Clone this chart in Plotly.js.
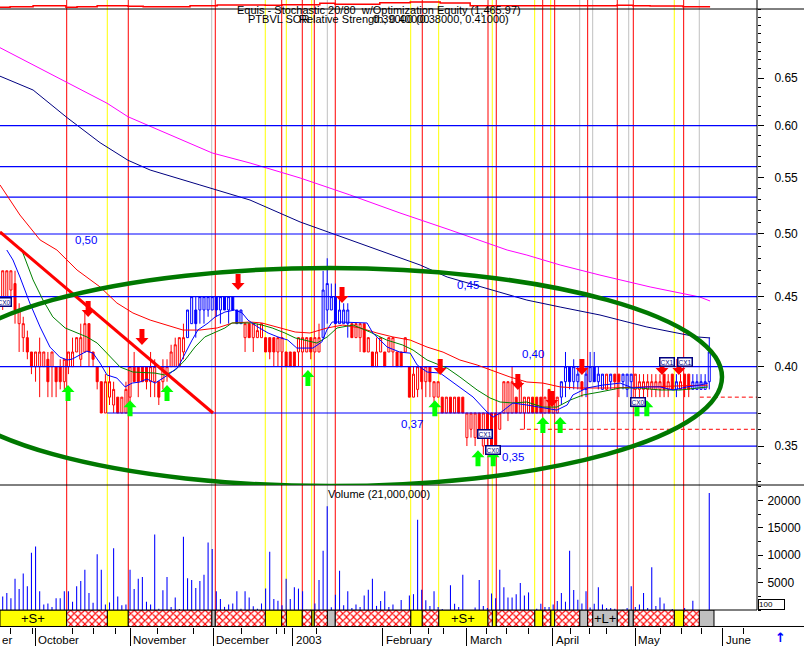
<!DOCTYPE html>
<html>
<head>
<meta charset="utf-8">
<script src="https://cdn.plot.ly/plotly-3.0.1.min.js"></script>
<style>
html,body{margin:0;padding:0;background:#fff;overflow:hidden}
#chart{width:804px;height:646px}
</style>
</head>
<body>
<div id="chart"></div>
<script>
// ---------------- DATA (prices in cents, bar index = trading day) ----------------
const openC = [45,45,45.5,46,43,42,42,41,40,40, 40,40.5,40,40,40,39,40,40,41,40.5,
 41,43,41,40,39,37,38,37.5,38,37, 37,38,40,40,40,40,39,39,39,39,
 39.5,40,40,40,41,42,43,44,44,44, 44,44,45,44,45,44,45,44,43,42,
 43,42,42,42,42,42,42,41,41,41, 41,41,41,41,41,42,41,41,42,44,
 44,45,43,43,43,43,42,42,43,41, 41,40,41,41,41,41,41,41,41,40,
 38,38.5,40,39,40,38,38,38,37,38, 37,38,38,35.5,36,35.5,37,35,37,37,
 37,36,37,37,37,38,37,37,37,38, 38,38,37,38.5,37,37,38,39,40,39,
 39,39,38.5,39,40,39,38.5,38.5,39,39.5, 39.5,39,38.5,39,38.5,38.5,38.5,38.5,38.5,38.5,
 38.5,39.5,38.5,39.5,38.5,38.5,39.5,39.5,38.5,38.5, 38.5,38.5,39];
const highC = [47,47,47,47,44.5,43.5,42.5,41,41,42, 41,41,41,40,40.5,40.5,41,42,42,43,
 44,43,41,40,39,39.5,40,39,38,38, 39,40,41,40,40,40,41,40.5,39,40.5,
 40.5,41.5,42,42,43,44,45,45,45,45, 45,45,45,45,45,45,45,44,44,43,
 43,43,43,43,42,42,42,42,42,41, 41,41,42,42,42,42,42,43,47,48,
 46,46,45,44.5,44.5,43,43,43,43,42, 41,42,42,41,42,42,41,41,42,40,
 40,40,40,40,40,39,39,38,38,38, 38,38,38,37,37,37,37,37,37,37,
 37,37,39,39,40,38,39,38,38,38, 38,38,38,38.5,38,38,39,41,40,40.5,
 40,39,40,41,41,40,39.5,39.5,39.5,39.5, 39.5,39.5,39.5,39.5,39.5,39.5,39.5,39.5,39.5,39.5,
 39.5,39.5,39.5,39.5,39.5,39.5,39.5,39.5,39.5,39.5, 39.5,39.5,42];
const lowC = [44,45,45,43,41,41,40.5,39.5,39,38, 40,38,38,38,38.5,38.5,39.5,40,41,40,
 41,40,40,38.5,37,37,37.5,37,37,37, 37,37,39,38,39,38.5,38,38,37.5,38.5,
 39,40,40,40,40.5,42,43,42,43,43, 43.5,44,43.5,43,44,43,44,43,43,41,
 42,41,42,42,41,40.5,40,40,40,40, 40,40,40,41,41,40.5,41,41,42,43,
 44,43,43,43,42,42,42,41,41,41, 40,40,41,40,41,40,40,40,41,38,
 38,38,38.5,38,38,37,38,37,37,37, 37,37,37,35,35.5,35,35.5,34.5,34.5,34.5,
 35,36,37,36.5,37,37,37,36,37,37, 37,37,37,37,37,37,37.5,38,38.5,38.5,
 38.5,38,38,39,39,38.5,38.5,38.5,38.5,38.5, 38,38.5,38,37.5,37.5,38,38,38,38,38,
 38,38,38,38.5,38,38.5,38,38,38.5,38.5, 38.5,38.5,38.5];
const closeC = [47,47,47,44,44,43,41,40,41,41, 41,39,41,39,39,40.5,41,41,42,42,
 43,41,40.5,39,37,39,39,38.5,37,38, 38.5,40,39,39,39,39,40,40,38,40,
 40,41,41.5,42,42,44,45,43,45,45, 45,45,44,45,44,45,44,43,44,43,
 42,43,42.5,43,41,41,41,42,42,40, 40,40,42,42,42,41,42,42,45.5,46,
 45,43,44,44,44,42,43,43,41,42, 40,41,42,40,42,42,40,40,42,38,
 39.5,40,39,40,39,39,39,37,38,37, 38,37,37,37,37,37,36,37,35.5,35,
 35,37,39,39,39,37,39,38,38,37, 37,37,38,37,38,38,39,40,39,40,
 39.5,38.5,39.5,40,39,39.5,39.5,39.5,39.5,39, 39,39.5,39.5,39.5,39.5,39,39,39,39,39,
 39,38.5,39,38.5,39,39,38.5,38.5,39,39, 39,39,41];
// trade state per bar: r = short (red candles), b = long (blue candles)
const state = ('r'.repeat(45) + 'b'.repeat(14) + 'r'.repeat(19) + 'b'.repeat(7) + 'r'.repeat(51) +
  'bbbbb' + 'r' + 'bbbbb' + 'r' + 'b' + 'rr' + 'bbb' + 'r'.repeat(10) + 'b' + 'rrr' + 'bbbbb').split('');
const volume = [2450,3080,2140,5720,3840,6670,4340,10440,11570,3400,
 1000,1190,570,2140,2140,3400,3400,1510,4340,5280, 7360,3080,1320,10190,7360,1000,1380,11260,2450,880,
 1000,7360,3840,5720,6040,1510,1000,13770,250,3590, 6040,570,2260,190,13340,5790,5470,4020,5280,6420,
 12320,11130,3400,2020,570,1000,1190,3400,250,3400, 2260,700,250,1190,3900,10630,2020,1700,880,5720,
 2020,4150,3900,3400,60,60,1190,5470,10810,18920, 500,2770,7170,880,3400,380,1000,570,2640,3710,
 5720,750,1640,3400,570,1000,0,1830,50,2640, 2890,16470,3710,1760,750,3400,570,190,0,4530,
 1130,570,6420,0,0,440,5470,750,380,3020, 2140,7360,4150,2260,2260,2890,4910,2640,3210,0,
 250,1130,570,570,1000,1640,3080,1510,10810,3650, 1890,1190,3400,440,1130,4150,1000,380,380,250,
 0,60,380,4340,570,1000,3080,380,7790,750, 2260,1190,0,190,0,0,380,0,1700,0,
 0,0,21320];

// moving averages (bar index, price)
const maBlueX = [1.0,2.5,4.2,6.6,9.1,11.5,13.9,15.7,16.9,18.8,20.5,22,23.7,25.4,27.8,29.8,31.5,33.4,35.1,37.1,38.3,40.2,42.7,44.4,46.1,47.5,50,51.7,54.1,56.5,58.3,59.7,62.1,64.6,67,69.4,71.6,75.5,77.7,78.9,80.2,82.1,86.2,88.7,90.1,93.6,96.7,99.2,100.9,103.3,106.5,108.9,111.3,114.5,117.9,119.4,121.1,122.8,124.2,127.6,131.5,134.9,137.4,138.8,142.2,146.1,150.3,153.4,156.8,160,163.2,166.6,169.7,171.7];
const maBlueY = [0.4867,0.4786,0.4651,0.4452,0.4276,0.4134,0.4065,0.4045,0.4051,0.4078,0.4106,0.4092,0.4024,0.3944,0.3924,0.3866,0.3891,0.3898,0.3918,0.3891,0.3911,0.3944,0.3997,0.4092,0.4183,0.4254,0.4305,0.4349,0.4385,0.44,0.4378,0.4326,0.4276,0.4233,0.4205,0.4183,0.4127,0.4127,0.417,0.4254,0.4312,0.4312,0.4305,0.4305,0.4233,0.4134,0.4099,0.4092,0.4011,0.3964,0.3957,0.3911,0.3866,0.3801,0.3706,0.3675,0.37,0.3737,0.3763,0.375,0.3731,0.3718,0.375,0.3814,0.3859,0.3878,0.3891,0.3859,0.3866,0.3866,0.3846,0.3866,0.3878,0.3891];
const maGreenX = [4.5,7.4,9.8,12.2,15.2,18.1,20.5,23,25.4,28.6,31.7,35.1,37.1,39.5,42,44.4,46.8,49.2,51.7,54.1,55.8,57.3,60.7,63.1,65.6,68.7,71.2,76.5,79,81.4,85.3,89.4,93.5,97.4,99.9,103.3,108.2,111.3,115.5,118.6,121.1,124.2,127.6,131.5,134.9,138.1,141.3,145.4,150.3,155.1,160,164.9,171.7];
const maGreenY = [0.488,0.4628,0.4474,0.4349,0.4269,0.4233,0.4205,0.4162,0.4092,0.3997,0.3964,0.3957,0.3957,0.3944,0.3977,0.4045,0.4134,0.4205,0.424,0.4269,0.4305,0.4305,0.4305,0.429,0.4269,0.4233,0.4198,0.4162,0.4205,0.4269,0.429,0.424,0.4183,0.4148,0.4113,0.4045,0.399,0.3931,0.3846,0.3795,0.3769,0.3763,0.3769,0.3737,0.3737,0.3781,0.3814,0.3833,0.3859,0.3859,0.3846,0.3846,0.3866];
const maRedX = [-0.66,4.2,9.1,13.2,18.1,23.7,27.8,31.7,35.9,40,43.9,48,52.2,56,60.2,63.1,67,71.2,74.8,79,82.8,87,91.1,95,99.2,103.3,107.2,111.3,115.5,119.4,123.5,127.6,131.5,135.7,139.8,147.8,155.9,164.1,171.7];
const maRedY = [0.543,0.5162,0.495,0.4867,0.4706,0.4574,0.4452,0.4378,0.4326,0.429,0.4254,0.4254,0.4269,0.4305,0.4312,0.4305,0.4276,0.424,0.4233,0.4269,0.429,0.4269,0.4233,0.4205,0.4183,0.4134,0.4099,0.4045,0.4011,0.397,0.3931,0.3898,0.3891,0.3866,0.3859,0.3859,0.3866,0.3872,0.3878];
const maNavyX = [-0.66,7.4,15.7,23.7,30.5,35.9,48,60.2,72.4,84.5,91.1,101.6,108.2,119.4,127.6,135.7,145.4,156.8,169,172.2];
const maNavyY = [0.652,0.637,0.608,0.583,0.566,0.5568,0.543,0.5294,0.5102,0.495,0.4867,0.4746,0.4651,0.455,0.4474,0.4422,0.4363,0.4276,0.4205,0.4198];
const maMagX = [-0.66,15.7,25.4,30.5,51,60.2,72.4,84.5,96.7,108.9,122.8,127.6,135.7,145.4,157.6,169.7,172.2];
const maMagY = [0.684,0.6446,0.623,0.609,0.573,0.5634,0.5494,0.534,0.518,0.5034,0.4867,0.4826,0.4746,0.4666,0.4574,0.4497,0.4467];

// optimization equity (step line in the top strip)
const eqX = [-0.66,1.8,7.4,15.4,18.1,23,30.5,34.2,45.6,52.2,63.9,68,77.2,80.9,91.8,99.2,106.5,113.8,149.5,153.4,157.6,165.6,172.2];
const eqY = [951,1005,1093,951,1005,1093,1040,1005,1093,1155,1129,1182,1307,1218,1360,1422,1333,1093,1129,1093,1067,1005,1005];

// system signals: R = red line, Y = yellow line, G = grey line
const sigPos = [15.58,25.46,30.57,50.88,51.75,63.92,67.92,69.04,72.93,75.22,75.85,79.02,80.96,99.32,102.14,106.13,118.14,119.18,120.15,129.5,131.45,133.4,134.37,140.46,142.4,143.62,149.61,152.39,153.51,163.48,165.77,169.57];
const sigType = ['R','Y','R','G','R','Y','R','Y','R','Y','R','G','R','Y','R','Y','R','Y','R','Y','R','Y','R','G','R','G','R','G','R','Y','R','G'];
const bandStartType = 'Y';
const bandLabelSeg = [0, 16, 26];
const bandLabelText = ['+S+', '+S+', '+L+'];

// buy / sell arrows and exit labels
const sellX = [20.8,33.9,57.3,82.6,106.5,125.4,133.7,141,160.5,164.6];
const sellY = [0.4349,0.4148,0.455,0.4452,0.3944,0.3846,0.3737,0.3944,0.3944,0.3944];
const buyX = [15.9,31,40,74.3,105.2,115.7,119.4,131.5,135.7,154.4,156.8];
const buyY = [0.3878,0.3781,0.3878,0.3977,0.3781,0.3476,0.3476,0.3675,0.3675,0.3781,0.3781];
const cxX = [0.3,117.4,119.4,154.7,161.7,166.1];
const cxY = [0.446,0.357,0.3476,0.3769,0.4031,0.4031];
const cxText = ['CX0','CX1','CX0','CX0','CX1','CX1'];

// horizontal levels, trendline, ellipse
const hFullY = [0.60,0.56,0.532,0.50,0.45,0.40];
const hPartY = [0.37,0.35], hPartFrom = [25.4,118.6];
const hDashY = [0.38,0.36], hDashFrom = [169.7,125.9];
const lvlTextX = [20.3,113.3,129.1,99.6,124.2];
const lvlTextY = [0.495,0.4589,0.4086,0.3632,0.3436];
const lvlText = ['0,50','0,45','0,40','0,37','0,35'];
const trendX = [-0.66, 51.2], trendY = [0.5017, 0.370];
const ellX = [-15.75, 175.1], ellY = [0.3272, 0.4722];

// axis ticks
const priceTicks = [0.35,0.40,0.45,0.50,0.55,0.60,0.65];
const volTicks = [5000,10000,15000,20000];
const monthX = [7.94,30.99,51.27,70.59,92.5,112.95,133.89,154,175.27];
const monthText = ['October','November','December','2003','February','March','April','May','June'];
const weekX = [1.95,7.21,16.94,22.05,27.34,37.8,46.4,58.18,66.7,68.55,76.44,99.15,103.6,107.25,117.65,122.69,127.94,138.1,142.96,147.03,160.01,165.29,170.16,180.28];

// ---------------- LAYOUT HELPERS ----------------
const FONT = 'Liberation Sans, Arial, sans-serif';
const PLOT_B = 627;                       // bottom of plotting area in px
const py = p => (PLOT_B - p) / PLOT_B;    // pixel row -> paper fraction
const dom = { eq: [py(9), 1], price: [py(485), py(9)], vol: [py(610), py(485)], band: [0, py(610)] };
const xMin = -0.657, xMax = 183.62;
const N = closeC.length;
const bars = Array.from({length: N}, (_, i) => i);
const lg = Math.log10;

const traces = [];
const hide = {hoverinfo: 'skip', showlegend: false};

// candles
[['r', '#ff0000'], ['b', '#0000ff']].forEach(([s, col]) => {
  const ids = bars.filter(i => state[i] === s);
  traces.push(Object.assign({
    type: 'candlestick', xaxis: 'x', yaxis: 'y',
    x: ids, open: ids.map(i => openC[i] / 100), high: ids.map(i => highC[i] / 100),
    low: ids.map(i => lowC[i] / 100), close: ids.map(i => closeC[i] / 100),
    whiskerwidth: 0,
    increasing: {line: {color: col, width: 1}, fillcolor: '#ffffff'},
    decreasing: {line: {color: col, width: 1}, fillcolor: col}
  }, hide));
});

// long moving averages
traces.push(Object.assign({type: 'scatter', mode: 'lines', x: maMagX, y: maMagY, line: {color: '#ff00ff', width: 1}}, hide));
traces.push(Object.assign({type: 'scatter', mode: 'lines', x: maNavyX, y: maNavyY, line: {color: '#000080', width: 1}}, hide));

// horizontal levels
hFullY.forEach(v => traces.push(Object.assign({type: 'scatter', mode: 'lines', x: [xMin - 1, xMax + 1], y: [v, v], line: {color: '#0000ff', width: 1.2}}, hide)));
hPartY.forEach((v, k) => traces.push(Object.assign({type: 'scatter', mode: 'lines', x: [hPartFrom[k], xMax + 1], y: [v, v], line: {color: '#0000ff', width: 1.2}}, hide)));
hDashY.forEach((v, k) => traces.push(Object.assign({type: 'scatter', mode: 'lines', x: [hDashFrom[k], xMax + 1], y: [v, v], line: {color: '#ff0000', width: 1, dash: '4px,3px'}}, hide)));

// short moving averages
traces.push(Object.assign({type: 'scatter', mode: 'lines', x: maRedX, y: maRedY, line: {color: '#ff0000', width: 1}}, hide));
traces.push(Object.assign({type: 'scatter', mode: 'lines', x: maGreenX, y: maGreenY, line: {color: '#008000', width: 1}}, hide));
traces.push(Object.assign({type: 'scatter', mode: 'lines', x: maBlueX, y: maBlueY, line: {color: '#0000ff', width: 1}}, hide));

// trendline
traces.push(Object.assign({type: 'scatter', mode: 'lines', x: trendX, y: trendY, line: {color: '#ff0000', width: 3}}, hide));

// volume
traces.push(Object.assign({type: 'bar', xaxis: 'x', yaxis: 'y2', x: bars, y: volume, width: 0.26,
  marker: {color: '#0000ff', line: {width: 0}}}, hide));

// equity strip
traces.push(Object.assign({type: 'scatter', mode: 'lines', xaxis: 'x', yaxis: 'y3', x: eqX, y: eqY,
  line: {color: '#ff0000', width: 1.5, shape: 'hv'}}, hide));

// band segments from signals
const segs = [];
let prevPos = xMin, prevType = bandStartType;
sigPos.forEach((p, k) => { segs.push({from: prevPos, to: p, type: prevType}); prevPos = p; prevType = sigType[k]; });
segs.push({from: prevPos, to: N + 0.15, type: prevType});
const bandStyle = {
  Y: {color: '#ffff00'},
  G: {color: '#c0c0c0'},
  R: {color: '#ffffff', pattern: {shape: 'x', fgcolor: '#ff0000', bgcolor: '#ffffff', size: 5, solidity: 0.4}}
};
['Y', 'G', 'R'].forEach(t => {
  const ss = segs.filter(s => s.type === t);
  traces.push(Object.assign({type: 'bar', orientation: 'h', xaxis: 'x', yaxis: 'y4',
    y: ss.map(() => 0.5), x: ss.map(s => s.to - s.from), base: ss.map(s => s.from), width: 1,
    marker: Object.assign({line: {color: '#000000', width: 1}}, bandStyle[t])}, hide));
});

// ---------------- SHAPES ----------------
const sigColor = {R: '#ff0000', Y: '#ffff00', G: '#c0c0c0'};
const shapes = [];
sigPos.forEach((p, k) => shapes.push({type: 'line', xref: 'x', yref: 'paper', x0: p, x1: p, y0: dom.band[1], y1: 1,
  line: {color: sigColor[sigType[k]], width: 1}, layer: 'below'}));
const sepLine = (y, x1) => ({type: 'line', xref: 'paper', yref: 'paper', x0: 0, x1: x1, y0: y, y1: y, line: {color: '#000', width: 1}});
shapes.push(sepLine(py(9), 804 / 757), sepLine(py(485), 804 / 757), sepLine(py(610), 1), sepLine(0.0008, 804 / 757));
shapes.push({type: 'line', xref: 'paper', yref: 'paper', x0: 1, x1: 1, y0: py(610), y1: 1, line: {color: '#000', width: 1}});
shapes.push({type: 'circle', xref: 'x', yref: 'y', x0: ellX[0], x1: ellX[1], y0: ellY[0], y1: ellY[1],
  line: {color: '#007800', width: 4.5}, layer: 'above'});
const downPath = 'M0,0 L-6.5,7 L-2.5,7 L-2.5,16 L2.5,16 L2.5,7 L6.5,7 Z';
const upPath = 'M0,0 L-6.5,-7 L-2.5,-7 L-2.5,-16 L2.5,-16 L2.5,-7 L6.5,-7 Z';
sellX.forEach((x, k) => shapes.push({type: 'path', xref: 'x', yref: 'y', xsizemode: 'pixel', ysizemode: 'pixel',
  xanchor: x, yanchor: sellY[k], path: downPath, fillcolor: '#ff0000', line: {width: 0}, layer: 'above'}));
buyX.forEach((x, k) => shapes.push({type: 'path', xref: 'x', yref: 'y', xsizemode: 'pixel', ysizemode: 'pixel',
  xanchor: x, yanchor: buyY[k], path: upPath, fillcolor: '#00ff00', line: {width: 0}, layer: 'above'}));

// ---------------- ANNOTATIONS ----------------
const ann = [];
const txt = (o) => Object.assign({showarrow: false, font: {family: FONT, size: 11, color: '#000'}}, o);
ann.push(txt({xref: 'paper', yref: 'paper', x: 378.5 / 757, y: py(10), xanchor: 'center', yanchor: 'middle',
  text: 'Equis - Stochastic 20/80  w/Optimization Equity (1,465.97)'}));
ann.push(txt({xref: 'paper', yref: 'paper', x: 246 / 757, y: py(19), xanchor: 'left', yanchor: 'middle', text: 'PTBVL SOR'}));
ann.push(txt({xref: 'paper', yref: 'paper', x: 297 / 757, y: py(19), xanchor: 'left', yanchor: 'middle', text: 'Relative Strength, 0.40000'}));
ann.push(txt({xref: 'paper', yref: 'paper', x: 511 / 757, y: py(19), xanchor: 'right', yanchor: 'middle', text: '0.39000 (0.38000, 0.41000)'}));
ann.push(txt({xref: 'paper', yref: 'paper', x: 379 / 757, y: py(494), xanchor: 'center', yanchor: 'middle', text: 'Volume (21,000,000)'}));
monthX.forEach((x, k) => ann.push(txt({xref: 'x', yref: 'paper', x: x, y: py(640), xanchor: 'left', yanchor: 'middle',
  xshift: 1, text: monthText[k], font: {family: FONT, size: 11.5, color: '#000'}})));
ann.push(txt({xref: 'paper', yref: 'paper', x: 0, y: py(640), xanchor: 'left', yanchor: 'middle', text: 'er',
  font: {family: FONT, size: 11.5, color: '#000'}}));
ann.push(txt({xref: 'paper', yref: 'paper', x: 780 / 757, y: py(637), xanchor: 'center', yanchor: 'middle', text: '<b>↑</b>',
  font: {family: 'DejaVu Sans, sans-serif', size: 13, color: '#0000ff'}}));
ann.push(txt({xref: 'paper', yref: 'paper', x: 758 / 757, y: py(610), xanchor: 'left', yanchor: 'bottom', text: '100',
  width: 25, height: 9, align: 'left',
  font: {family: FONT, size: 8, color: '#000'}, bordercolor: '#000', borderwidth: 1, borderpad: 0, bgcolor: '#fff'}));
bandLabelSeg.forEach((si, k) => {
  const s = segs[si];
  ann.push(txt({xref: 'x', yref: 'paper', x: (Math.max(s.from, xMin) + s.to) / 2, y: dom.band[1] / 2, xanchor: 'center', yanchor: 'middle',
    text: bandLabelText[k], font: {family: FONT, size: 13, color: '#000'}}));
});
lvlTextX.forEach((x, k) => ann.push(txt({xref: 'x', yref: 'y', x: x, y: lg(lvlTextY[k]), xanchor: 'center', yanchor: 'middle',
  text: lvlText[k], font: {family: FONT, size: 11.5, color: '#0000ff'}})));
cxX.forEach((x, k) => ann.push(txt({xref: 'x', yref: 'y', x: x, y: lg(cxY[k]), xanchor: 'center', yanchor: 'middle',
  text: cxText[k], font: {family: FONT, size: 6.5, color: '#000080'}, bordercolor: '#000080', borderwidth: 1.5, borderpad: 0, bgcolor: '#ffffff'})));

// ---------------- AXES ----------------
const centTicks = [];
for (let v = 33; v <= 73; v++) centTicks.push(v / 100);
const tickFont = {family: FONT, size: 12, color: '#000'};
const layout = {
  width: 804, height: 646,
  margin: {l: 0, r: 47, t: 0, b: 19, pad: 0},
  paper_bgcolor: '#ffffff', plot_bgcolor: 'rgba(0,0,0,0)',
  showlegend: false, barmode: 'overlay', hovermode: false,
  font: {family: FONT, size: 11, color: '#000'},
  xaxis: {domain: [0, 1], range: [xMin, xMax], anchor: 'y4', showgrid: false, zeroline: false, showline: false,
    tickmode: 'array', tickvals: monthX, ticks: 'outside', ticklen: 19, tickcolor: '#000', tickwidth: 1,
    showticklabels: false, fixedrange: true, rangeslider: {visible: false},
    minor: {tickmode: 'array', tickvals: weekX, ticks: 'outside', ticklen: 6, tickcolor: '#000', showgrid: false}},
  yaxis: {domain: dom.price, type: 'log', range: [lg(0.3278), lg(0.7300)], side: 'right', anchor: 'x',
    showgrid: false, zeroline: false, showline: false, fixedrange: true,
    tickmode: 'array', tickvals: priceTicks, ticktext: priceTicks.map(v => v.toFixed(2)),
    ticks: 'outside', ticklen: 6, tickcolor: '#000', tickfont: tickFont, ticklabelstandoff: 8,
    minor: {tickmode: 'array', tickvals: centTicks, ticks: 'outside', ticklen: 3, tickcolor: '#000', showgrid: false}},
  yaxis2: {domain: dom.vol, range: [0, 22800], side: 'right', anchor: 'x', showgrid: false, zeroline: false, showline: false,
    fixedrange: true, tickmode: 'array', tickvals: volTicks, ticktext: volTicks.map(String),
    ticks: 'outside', ticklen: 5, tickcolor: '#000', tickfont: tickFont, ticklabelstandoff: 2,
    minor: {tickmode: 'linear', tick0: 0, dtick: 2500, ticks: 'outside', ticklen: 3, tickcolor: '#000', showgrid: false}},
  yaxis3: {domain: dom.eq, range: [800, 1600], anchor: 'x', visible: false, fixedrange: true},
  yaxis4: {domain: dom.band, range: [0, 1], anchor: 'x', visible: false, fixedrange: true},
  shapes: shapes,
  annotations: ann
};

Plotly.newPlot('chart', traces, layout, {staticPlot: true, displayModeBar: false});
</script>
</body>
</html>
